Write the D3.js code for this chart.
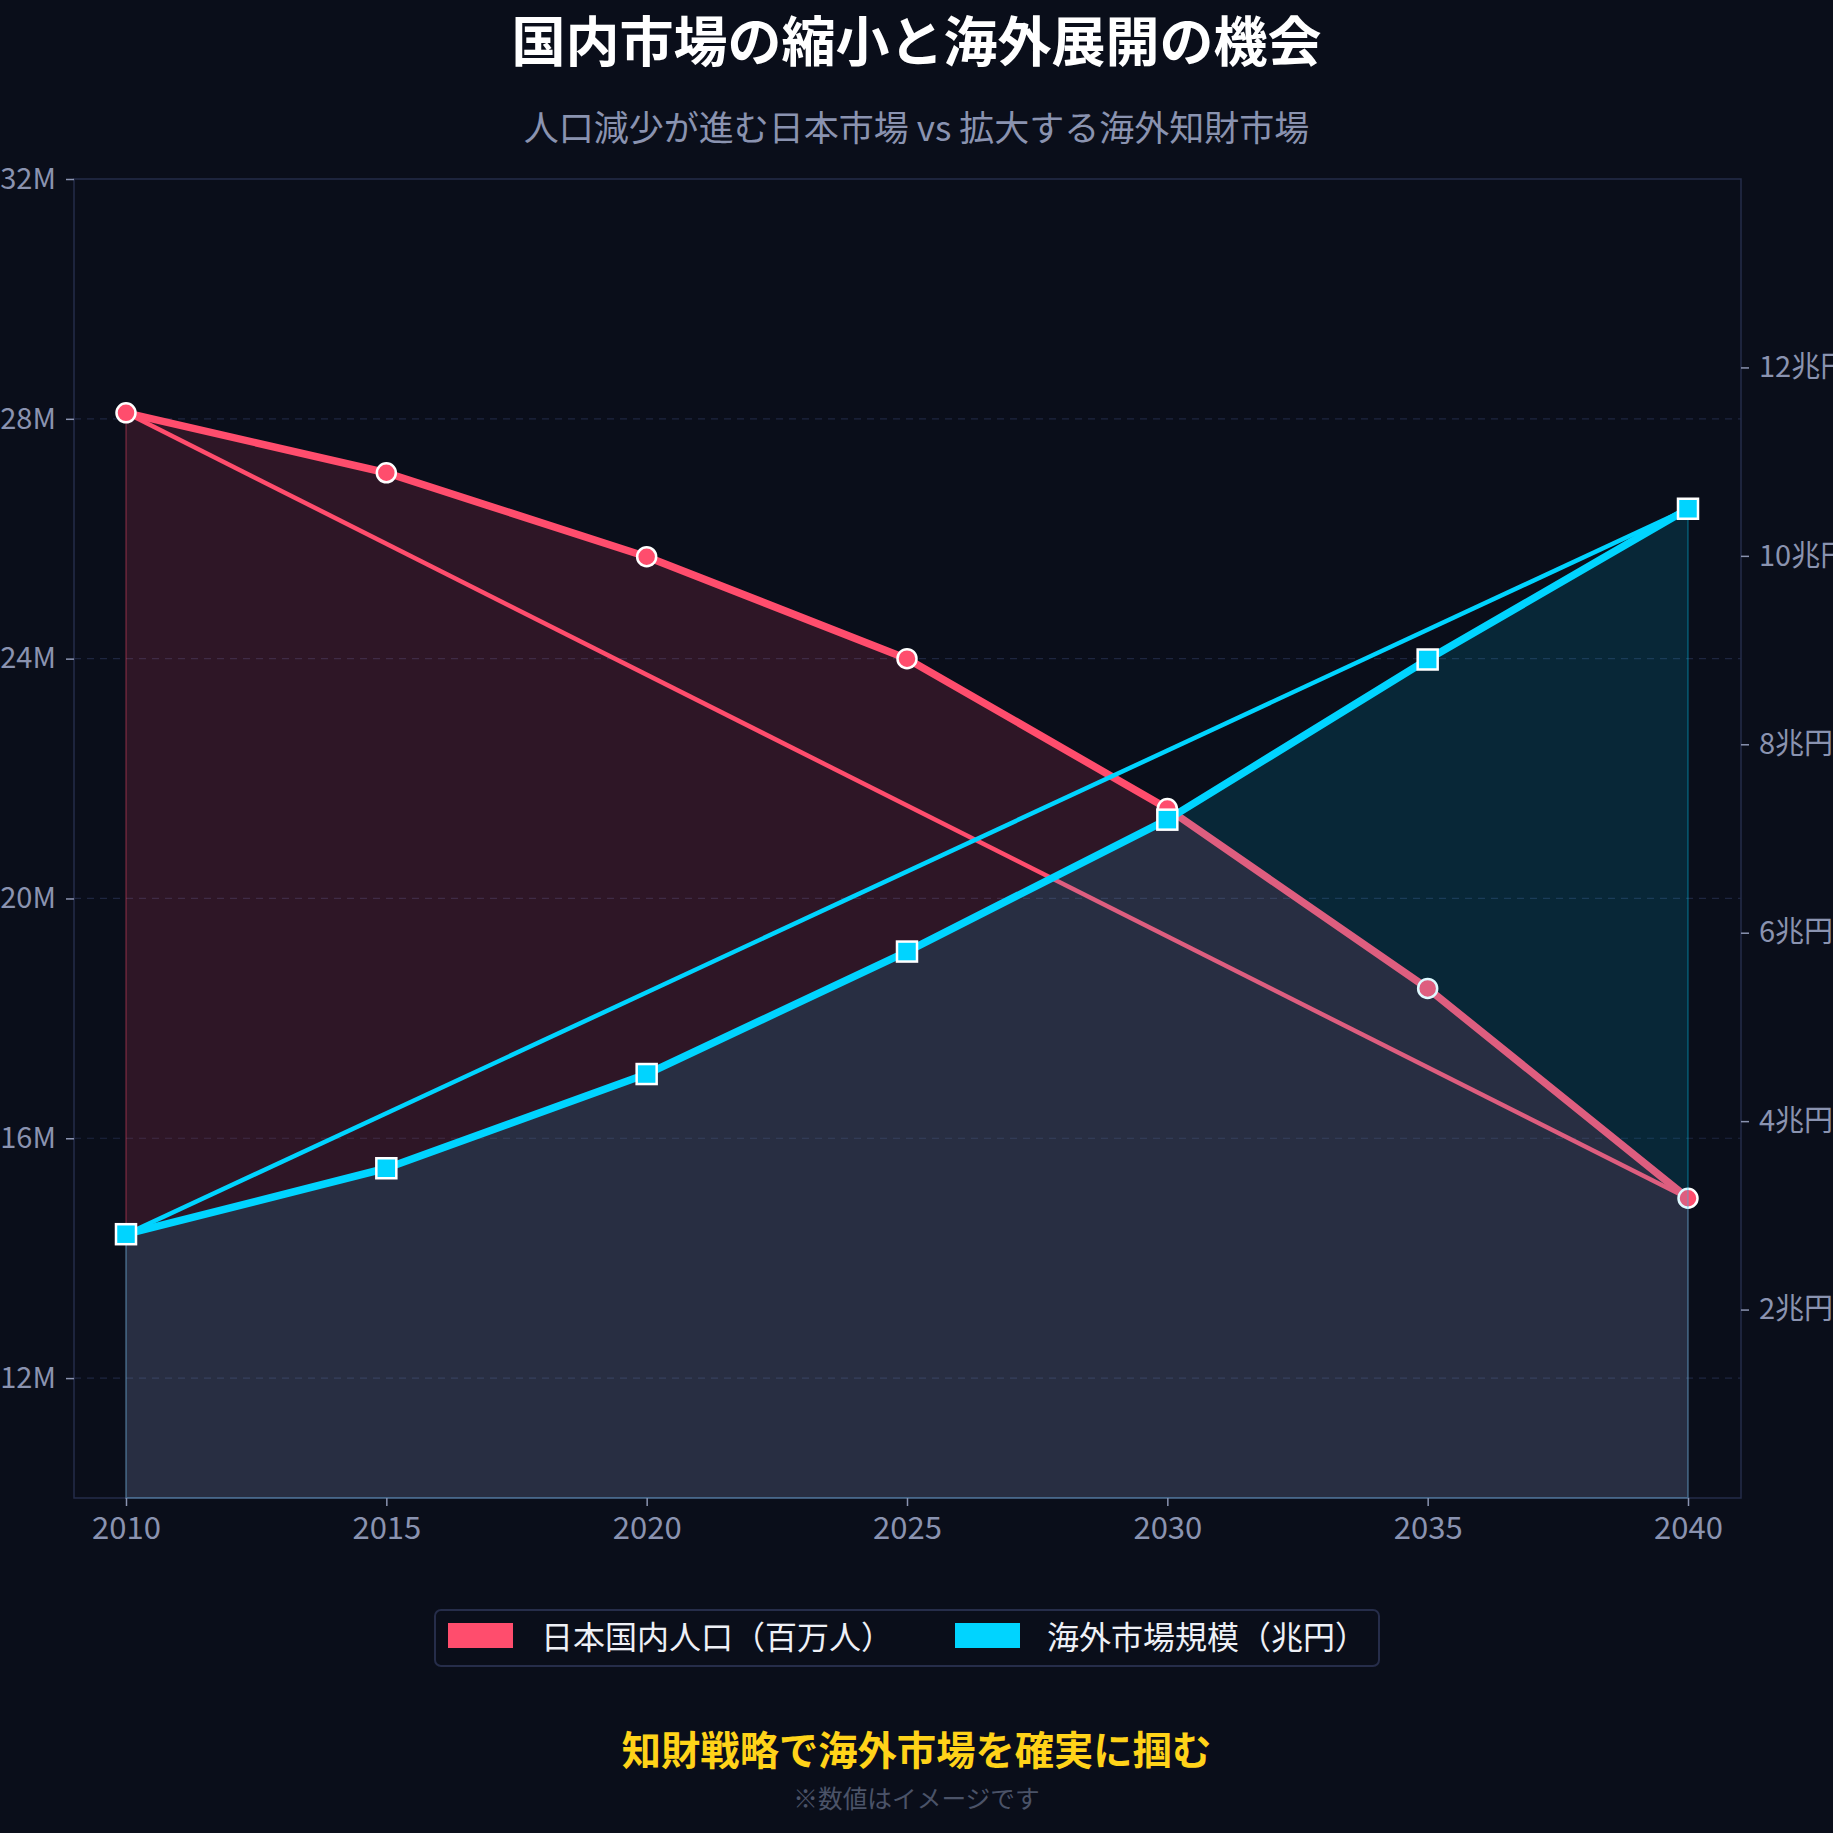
<!DOCTYPE html>
<html><head><meta charset="utf-8">
<script src="https://cdn.jsdelivr.net/npm/d3@7"></script>
<style>
html,body{margin:0;padding:0;background:#0a0e1a;overflow:hidden;}
svg{display:block;font-family:"Noto Sans CJK JP","Noto Sans",sans-serif;}
</style></head><body>
<svg id="chart" width="1833" height="1833"></svg>
<script>
const years = [2010, 2015, 2020, 2025, 2030, 2035, 2040];
const population = [28.1, 27.1, 25.7, 24.0, 21.5, 18.5, 15.0];   // left axis (M)
const overseas = [2.8, 3.5, 4.5, 5.8, 7.2, 8.9, 10.5];          // right axis (兆円)
const leftTicks = [12, 16, 20, 24, 28, 32];
const rightTicks = [2, 4, 6, 8, 10, 12];
const seriesNames = ["日本国内人口（百万人）", "海外市場規模（兆円）"];
const titleText = "国内市場の縮小と海外展開の機会";
const subtitleText = "人口減少が進む日本市場 vs 拡大する海外知財市場";
const footerText = "知財戦略で海外市場を確実に掴む";
const noteText = "※数値はイメージです";

const RED = "#ff4d6d", CYAN = "#00d4ff", BG = "#0a0e1a";
const TICK_COLOR = "#8a93b0";

const svg = d3.select("#chart");
svg.append("rect").attr("width", 1833).attr("height", 1833).attr("fill", BG);

const plot = {left: 74, right: 1741, top: 179, bottom: 1498};
const x = d3.scaleLinear().domain([2010, 2040]).range([126, 1688]);
const yL = d3.scaleLinear().domain([10, 32]).range([plot.bottom, plot.top]);
const yR = d3.scaleLinear().domain([0, 14]).range([plot.bottom, plot.top]);

// title
svg.append("text").attr("x", 916.5).attr("y", 62).attr("text-anchor", "middle")
  .attr("font-size", 54).attr("font-weight", 700).attr("fill", "#ffffff").text(titleText);
svg.append("text").attr("x", 916.5).attr("y", 141).attr("text-anchor", "middle")
  .attr("font-size", 35).attr("fill", TICK_COLOR).text(subtitleText);

// grid
const grid = svg.append("g");
grid.selectAll("line").data(leftTicks.filter(d => d < 32)).join("line")
  .attr("x1", plot.left).attr("x2", plot.right)
  .attr("y1", d => yL(d)).attr("y2", d => yL(d))
  .attr("stroke", "#1e2640").attr("stroke-width", 1.2).attr("stroke-dasharray", "7,6");

// plot border
svg.append("rect").attr("x", plot.left).attr("y", plot.top)
  .attr("width", plot.right - plot.left).attr("height", plot.bottom - plot.top)
  .attr("fill", "none").attr("stroke", "#252c4a").attr("stroke-width", 1.5);

const popData = years.map((y, i) => ({x: y, v: population[i]}));
const ovData = years.map((y, i) => ({x: y, v: overseas[i]}));

const g = svg.append("g");

// red series
g.append("path").datum(popData)
  .attr("d", d3.area().x(d => x(d.x)).y0(plot.bottom).y1(d => yL(d.v)))
  .attr("fill", RED).attr("fill-opacity", 0.15)
  .attr("stroke", RED).attr("stroke-opacity", 0.25).attr("stroke-width", 2);
g.append("path").datum([popData[0], popData[popData.length - 1]])
  .attr("d", d3.line().x(d => x(d.x)).y(d => yL(d.v)))
  .attr("fill", "none").attr("stroke", RED).attr("stroke-width", 4.5);
g.append("path").datum(popData)
  .attr("d", d3.line().x(d => x(d.x)).y(d => yL(d.v)))
  .attr("fill", "none").attr("stroke", RED).attr("stroke-width", 7.5).attr("stroke-linejoin", "round");
g.selectAll("circle.pop").data(popData).join("circle").attr("class", "pop")
  .attr("cx", d => x(d.x)).attr("cy", d => yL(d.v)).attr("r", 9.5)
  .attr("fill", RED).attr("stroke", "#ffffff").attr("stroke-width", 2.5);

// cyan series
g.append("path").datum(ovData)
  .attr("d", d3.area().x(d => x(d.x)).y0(plot.bottom).y1(d => yR(d.v)))
  .attr("fill", CYAN).attr("fill-opacity", 0.13)
  .attr("stroke", CYAN).attr("stroke-opacity", 0.25).attr("stroke-width", 2);
g.append("path").datum([ovData[0], ovData[ovData.length - 1]])
  .attr("d", d3.line().x(d => x(d.x)).y(d => yR(d.v)))
  .attr("fill", "none").attr("stroke", CYAN).attr("stroke-width", 4.5);
g.append("path").datum(ovData)
  .attr("d", d3.line().x(d => x(d.x)).y(d => yR(d.v)))
  .attr("fill", "none").attr("stroke", CYAN).attr("stroke-width", 7.5).attr("stroke-linejoin", "round");
g.selectAll("rect.ov").data(ovData).join("rect").attr("class", "ov")
  .attr("x", d => x(d.x) - 10).attr("y", d => yR(d.v) - 10)
  .attr("width", 20).attr("height", 20)
  .attr("fill", CYAN).attr("stroke", "#ffffff").attr("stroke-width", 2.5);

// axes
function styleAxis(size) {
  return sel => {
    sel.select(".domain").remove();
    sel.selectAll(".tick line").attr("stroke", TICK_COLOR).attr("stroke-width", 1.5);
    sel.selectAll(".tick text").attr("fill", TICK_COLOR).attr("font-size", size)
      .attr("font-family", '"Noto Sans CJK JP","Noto Sans",sans-serif');
  };
}
svg.append("g").attr("transform", `translate(${plot.left},0)`)
  .call(d3.axisLeft(yL).tickValues(leftTicks).tickFormat(d => d + "M").tickSize(8).tickPadding(10))
  .call(styleAxis(29));
svg.append("g").attr("transform", `translate(${plot.right},0)`)
  .call(d3.axisRight(yR).tickValues(rightTicks).tickFormat(d => d + "兆円").tickSize(8).tickPadding(10))
  .call(styleAxis(29));
svg.append("g").attr("transform", `translate(0,${plot.bottom})`)
  .call(d3.axisBottom(x).tickValues(years).tickFormat(d3.format("d")).tickSize(8).tickPadding(11))
  .call(styleAxis(31));

// legend
const leg = svg.append("g");
leg.append("rect").attr("x", 435).attr("y", 1610).attr("width", 944).attr("height", 56)
  .attr("rx", 6).attr("fill", BG).attr("stroke", "#262d4a").attr("stroke-width", 2);
const legItems = [{name: seriesNames[0], color: RED, sx: 448, tx: 541},
                  {name: seriesNames[1], color: CYAN, sx: 955, tx: 1047}];
legItems.forEach(it => {
  leg.append("rect").attr("x", it.sx).attr("y", 1623).attr("width", 65).attr("height", 25).attr("fill", it.color);
  leg.append("text").attr("x", it.tx).attr("y", 1649).attr("font-size", 32)
    .attr("fill", "#eef0f6").text(it.name);
});

// footer
svg.append("text").attr("x", 916.5).attr("y", 1765).attr("text-anchor", "middle")
  .attr("font-size", 39.3).attr("font-weight", 700).attr("fill", "#ffd319").text(footerText);
svg.append("text").attr("x", 916.5).attr("y", 1808).attr("text-anchor", "middle")
  .attr("font-size", 24.7).attr("fill", "#4b5368").text(noteText);
</script>
</body></html>
